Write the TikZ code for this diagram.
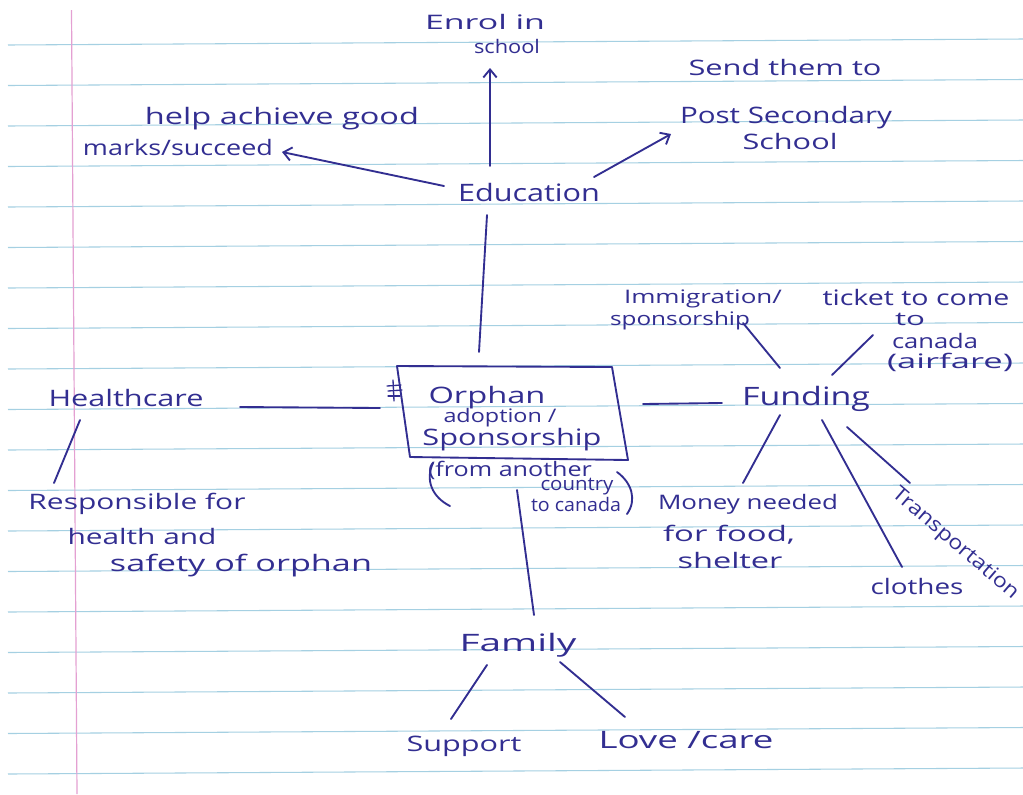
\documentclass[tikz,border=0pt]{standalone}
\usepackage{fontspec}
\setmainfont{Open Sans}
\usetikzlibrary{arrows.meta,calc}
\definecolor{ink}{RGB}{50,46,145}
\definecolor{rulecol}{RGB}{165,208,226}
\definecolor{margincol}{RGB}{228,160,210}
% one drawing unit = 0.75pt; each word is set at a size (pt) and stretched to a width (units)
\newlength\pxu \setlength\pxu{0.75pt}
\newcommand\inkw[3][16]{\resizebox{#2\pxu}{\height}{\fontsize{#1}{#1}\selectfont #3}}

\begin{document}
\begin{tikzpicture}[x=0.75pt,y=-0.75pt,
  word/.style={inner sep=0pt, text=ink, anchor=center},
  pen/.style={draw=ink, line width=1.4pt, line cap=round, line join=round},
  arrowpen/.style={pen, -{Straight Barb[length=6pt,width=10pt]}},
  ruled/.style={draw=rulecol, line width=0.8pt},
  marginline/.style={draw=margincol, line width=0.9pt}]

% notebook paper
\fill[white] (0,0) rectangle (1023,794);
\useasboundingbox (0,0) rectangle (1023,794);
\foreach \n in {0,...,18}
  \draw[ruled] (8,{45+40.5*\n}) -- (1023,{45+40.5*\n-6});
\draw[marginline] (71.5,10) -- (77,794);

% ---- central topic ----
\node[word, minimum width=200pt, minimum height=70pt] (hub) at (512,412) {};
\draw[pen] ($(hub)+(-115,-46)$) -- ($(hub)+(100,-45)$) -- ($(hub)+(116,48)$)
           -- ($(hub)+(-102,45)$) -- cycle;
\node[word] (orph1) at (487,398) {\inkw[17]{117}{Orphan}};
\node[word] (orph2) at (500,418) {\inkw[14]{113}{adoption /}};
\node[word] (orph3) at (512,440) {\inkw[17]{179}{Sponsorship}};
% little scribble on the left edge of the box
\draw[pen, line width=1pt] (393,380) -- (394,401);
\draw[pen, line width=1pt] (387,386) -- (401,385);
\draw[pen, line width=1pt] (388,391) -- (402,390);
\draw[pen, line width=1pt] (388,396) -- (400,396);
\node[word] (from1) at (510,470) {\inkw[15]{164}{(from another}};
\node[word] (from2) at (577,487) {\inkw[14]{73}{country}};
\node[word] (from3) at (576,504) {\inkw[14]{90}{to canada}};
\draw[pen] (433,463) .. controls (425,480) and (432,497) .. (450,506);
\draw[pen] (617,472) .. controls (632,483) and (637,500) .. (627,514);

% ---- Education ----
\node[word] (edu) at (529,192) {\inkw[18]{142}{Education}};
\node[word] (enrol1) at (485,22) {\inkw[15]{120}{Enrol in}};
\node[word] (enrol2) at (507,46) {\inkw[14]{66}{school}};
\node[word] (help1) at (282,119) {\inkw[17]{274}{help achieve good}};
\node[word] (help2) at (178,147) {\inkw[16]{190}{marks/succeed}};
\node[word] (send) at (785,67) {\inkw[16]{193}{Send them to}};
\node[word] (post1) at (786,118) {\inkw[17]{212}{Post Secondary}};
\node[word] (post2) at (790,141) {\inkw[16]{95}{School}};
\draw[arrowpen] ($(edu)+(-39,-26)$) -- ($(enrol2)+(-17,22)$);
\draw[arrowpen] ($(edu)+(-85,-6)$) -- ($(help2)+(104,5)$);
\draw[arrowpen] ($(edu)+(65,-15)$) -- ($(post1)+(-115,16)$);
\draw[pen] ($(edu)+(-42,23)$) -- ($(hub)+(-33,-60)$);

% ---- Healthcare ----
\node[word] (health) at (126,398) {\inkw[17]{155}{Healthcare}};
\node[word] (resp1) at (137,504) {\inkw[16]{217}{Responsible for}};
\node[word] (resp2) at (142,536) {\inkw[16]{149}{health and}};
\node[word] (resp3) at (241,566) {\inkw[17]{262}{safety of orphan}};
\draw[pen] ($(hub)+(-132,-4)$) -- ($(health)+(114,9)$);
\draw[pen] ($(health)+(-46,22)$) -- ($(resp1)+(-83,-21)$);

% ---- Family ----
\node[word] (fam) at (518,645) {\inkw[18]{117}{Family}};
\node[word] (supp) at (464,746) {\inkw[16]{115}{Support}};
\node[word] (love) at (686,740) {\inkw[18]{175}{Love /care}};
\draw[pen] ($(hub)+(5,78)$) -- ($(fam)+(16,-30)$);
\draw[pen] ($(fam)+(-31,20)$) -- ($(supp)+(-13,-27)$);
\draw[pen] ($(fam)+(42,17)$) -- ($(love)+(-61,-23)$);

% ---- Funding ----
\node[word] (fund) at (806,399) {\inkw[19]{128}{Funding}};
\node[word] (imm1) at (703,299) {\inkw[14]{158}{Immigration/}};
\node[word] (imm2) at (680,321) {\inkw[14]{140}{sponsorship}};
\node[word] (tick1) at (916,297) {\inkw[16]{187}{ticket to come}};
\node[word] (tick2) at (910,319) {\inkw[14]{30}{to}};
\node[word] (tick3) at (935,341) {\inkw[15]{86}{canada}};
\node[word] (tick4) at (950,362) {\inkw[15]{126}{(airfare)}};
\node[word] (money1) at (748,504) {\inkw[15]{180}{Money needed}};
\node[word] (money2) at (729,535) {\inkw[16]{132}{for food,}};
\node[word] (money3) at (730,560) {\inkw[16]{105}{shelter}};
\node[word] (cloth) at (917,586) {\inkw[16]{93}{clothes}};
\node[word, rotate=-40.6] (trans) at (955,544) {\inkw[15]{160}{Transportation}};
\draw[pen] ($(hub)+(131,-8)$) -- ($(fund)+(-84,4)$);
\draw[pen] ($(fund)+(-26,-31)$) -- ($(imm2)+(63,2)$);
\draw[pen] ($(fund)+(26,-24)$) -- ($(tick3)+(-62,-6)$);
\draw[pen] ($(fund)+(-26,16)$) -- ($(money1)+(-5,-21)$);
\draw[pen] ($(fund)+(16,21)$) -- ($(cloth)+(-15,-19)$);
\draw[pen] ($(fund)+(41,28)$) -- ($(trans)+(-45,-61)$);

\end{tikzpicture}
\end{document}
